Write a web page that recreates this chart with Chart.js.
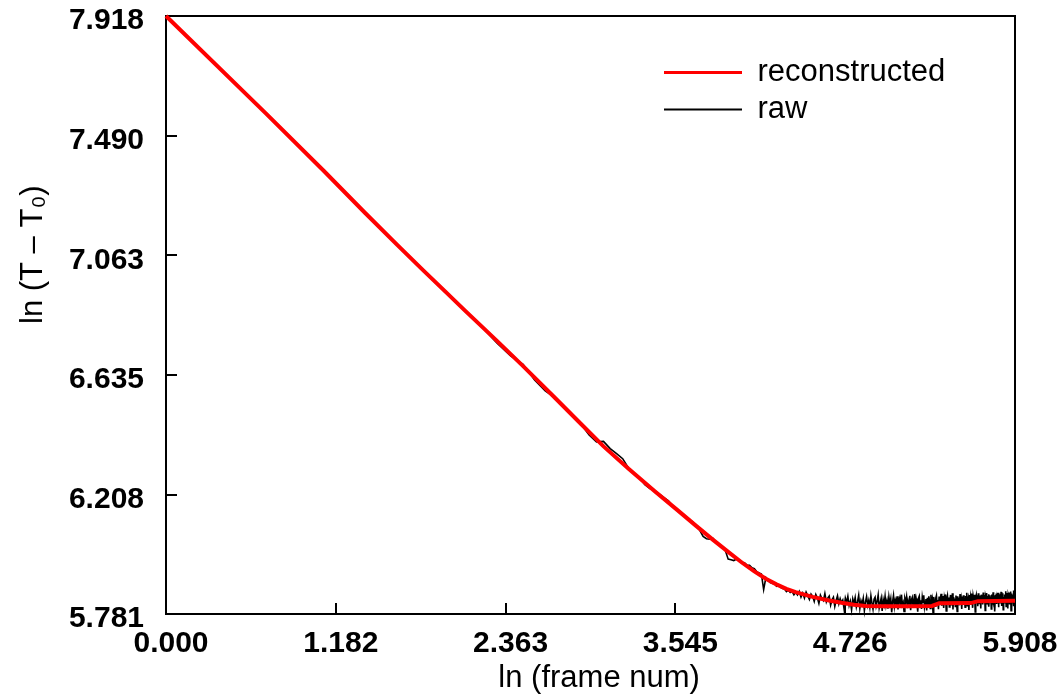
<!DOCTYPE html>
<html><head><meta charset="utf-8">
<script src="https://cdn.jsdelivr.net/npm/chart.js@4/dist/chart.umd.min.js"></script>
<style>html,body{margin:0;padding:0;background:#fff;}</style>
</head><body>
<canvas id="c" width="1059" height="697"></canvas>
<script>
// Axis tick values (labels shown with 3 decimals)
const xTickValues = [0, 1.1816, 2.3632, 3.5448, 4.7264, 5.908];
const yTickValues = [5.781, 6.208, 6.635, 7.063, 7.490, 7.918];
const xRange = [0, 5.908];
const yRange = [5.781, 7.918];

// Series: reconstructed (smooth)
const reconX = [0, 0.693, 1.099, 1.386, 1.609, 1.792, 1.946, 2.079, 2.303, 2.485, 2.708, 2.890, 3.045, 3.219, 3.401, 3.555, 3.689, 3.807, 3.912, 4.007, 4.094, 4.174, 4.248, 4.317, 4.382, 4.443, 4.500, 4.605, 4.700, 4.787, 4.868, 5.000, 5.200, 5.330, 5.380, 5.600, 5.650, 5.908];
const reconY = [7.918, 7.571, 7.364, 7.214, 7.100, 7.008, 6.932, 6.866, 6.757, 6.667, 6.553, 6.459, 6.380, 6.300, 6.220, 6.154, 6.096, 6.046, 6.003, 5.965, 5.933, 5.907, 5.887, 5.871, 5.859, 5.850, 5.842, 5.830, 5.821, 5.814, 5.810, 5.809, 5.809, 5.810, 5.819, 5.820, 5.827, 5.828];

// Series: raw, one value per frame (frame 1 .. 368), plotted at ln(frame)
const rawY = [
 7.918, 7.571, 7.364, 7.214, 7.100, 7.008, 6.932, 6.866, 6.808,
 6.750, 6.703, 6.673, 6.617, 6.578, 6.553, 6.521, 6.490, 6.458, 6.421,
 6.396, 6.398, 6.372, 6.354, 6.336, 6.302, 6.283, 6.267, 6.243, 6.229,
 6.222, 6.209, 6.197, 6.185, 6.167, 6.153, 6.143, 6.132, 6.117, 6.111,
 6.096, 6.081, 6.058, 6.050, 6.048, 6.051, 6.037, 6.026, 6.020, 6.009,
 5.977, 5.975, 5.972, 5.977, 5.974, 5.966, 5.964, 5.956, 5.955, 5.946,
 5.943, 5.932, 5.928, 5.924, 5.868, 5.911, 5.902, 5.893, 5.890, 5.889,
 5.880, 5.884, 5.876, 5.872, 5.870, 5.861, 5.866, 5.858, 5.862, 5.850,
 5.858,
 5.849, 5.862, 5.841, 5.856, 5.838, 5.859, 5.846, 5.833, 5.852, 5.844,
 5.826, 5.851, 5.839, 5.819, 5.848, 5.836, 5.829, 5.854, 5.824, 5.838,
 5.845, 5.813, 5.832, 5.841, 5.808, 5.829, 5.846, 5.818, 5.836, 5.822,
 5.831, 5.799, 5.838, 5.822, 5.844, 5.811, 5.827, 5.796, 5.835, 5.819,
 5.840, 5.806, 5.825, 5.848, 5.801, 5.829, 5.816, 5.837, 5.793, 5.824,
 5.843, 5.812, 5.830, 5.805, 5.846, 5.820, 5.798, 5.834, 5.841, 5.809,
 5.826, 5.849, 5.803, 5.821, 5.838, 5.792, 5.833, 5.815, 5.845, 5.811,
 5.829, 5.800, 5.842, 5.818, 5.836, 5.787, 5.825, 5.847, 5.808, 5.831,
 5.819, 5.844, 5.797, 5.828, 5.839, 5.806, 5.850, 5.814, 5.823, 5.790,
 5.837, 5.826, 5.843, 5.802, 5.829, 5.817, 5.846, 5.795, 5.832, 5.840,
 5.810, 5.827, 5.852, 5.804, 5.836, 5.821, 5.789, 5.838, 5.845, 5.812,
 5.830, 5.799, 5.841, 5.823, 5.848, 5.807, 5.826, 5.835, 5.794, 5.839,
 5.816, 5.844, 5.828, 5.801, 5.850, 5.820, 5.833, 5.786, 5.842, 5.825,
 5.809, 5.838, 5.847, 5.815, 5.831, 5.798, 5.843, 5.822, 5.836, 5.853,
 5.811, 5.829, 5.845, 5.803, 5.838, 5.824, 5.851, 5.792, 5.834, 5.846,
 5.818, 5.840, 5.806, 5.832, 5.849, 5.814, 5.827, 5.855, 5.797, 5.841,
 5.823, 5.836, 5.808, 5.847, 5.830, 5.790, 5.844, 5.826, 5.839, 5.812,
 5.852, 5.821, 5.834, 5.799, 5.843, 5.829, 5.848, 5.816, 5.837, 5.805,
 5.845, 5.825, 5.857, 5.811, 5.833, 5.840, 5.795, 5.849, 5.828, 5.842,
 5.817, 5.854, 5.831, 5.803, 5.846, 5.835, 5.821, 5.850, 5.788, 5.839,
 5.848, 5.826, 5.843, 5.809, 5.855, 5.832, 5.819, 5.847, 5.838, 5.801,
 5.850, 5.829, 5.844, 5.815, 5.858, 5.836, 5.824, 5.849, 5.794, 5.841,
 5.833, 5.856, 5.818, 5.845, 5.830, 5.852, 5.807, 5.839, 5.848, 5.822,
 5.843, 5.799, 5.851, 5.834, 5.827, 5.859, 5.813, 5.846, 5.837, 5.790,
 5.849, 5.826, 5.854, 5.817, 5.840, 5.831, 5.857, 5.805, 5.844, 5.835,
 5.852, 5.821, 5.838, 5.860, 5.810, 5.846, 5.829, 5.855, 5.796, 5.842,
 5.834, 5.851, 5.819, 5.847, 5.862, 5.808, 5.840, 5.828, 5.856, 5.801,
 5.845, 5.837, 5.858, 5.815, 5.849, 5.832, 5.861, 5.793, 5.843, 5.854,
 5.822, 5.850, 5.838, 5.865, 5.809, 5.847, 5.835, 5.858
];

const seriesNames = ['reconstructed', 'raw'];
const FONT = "'Liberation Sans', Arial, Helvetica, sans-serif";

const reconData = reconX.map((x, i) => ({x: x, y: reconY[i]}));
const rawData = rawY.map((y, i) => ({x: Math.log(i + 1), y: y}));

const framePlugin = {
  id: 'frame',
  beforeDatasetsDraw(chart) {
    const {ctx, chartArea: a} = chart;
    ctx.save();
    ctx.strokeStyle = '#000';
    ctx.lineWidth = 2;
    ctx.strokeRect(a.left, a.top, a.right - a.left, a.bottom - a.top);
    ctx.restore();
  }
};
const legendPlace = {
  id: 'legendPlace',
  afterLayout(chart) {
    const lg = chart.legend;
    if (lg) { lg.left = 658; lg.top = 51; }
  }
};

new Chart(document.getElementById('c'), {
  type: 'line',
  data: {
    datasets: [
      {label: seriesNames[0], data: reconData, borderColor: '#ff0000', borderWidth: 4, pointRadius: 0, tension: 0, clip: 8, order: 0},
      {label: seriesNames[1], data: rawData, borderColor: '#000000', borderWidth: 1.6, pointRadius: 0, tension: 0, clip: 8, order: 1}
    ]
  },
  options: {
    responsive: false,
    animation: false,
    layout: {padding: {left: 0, top: 16, right: 44, bottom: 0}},
    plugins: {
      tooltip: {enabled: false},
      legend: {
        position: 'chartArea',
        fullSize: false,
        align: 'start',
        labels: {
          usePointStyle: true,
          pointStyle: 'line',
          pointStyleWidth: 78,
          color: '#000',
          padding: 6,
          font: {size: 31, family: FONT, lineHeight: 1},
          generateLabels(chart) {
            const items = Chart.defaults.plugins.legend.labels.generateLabels(chart);
            items.forEach((it, i) => { it.lineWidth = i === 0 ? 3 : 2; it.pointStyle = 'line'; });
            return items;
          }
        }
      }
    },
    scales: {
      x: {
        type: 'linear',
        min: xRange[0], max: xRange[1],
        afterBuildTicks: s => { s.ticks = xTickValues.map(v => ({value: v})); },
        afterFit: s => { s.height = 83; s.paddingLeft = 0; s.paddingRight = 0; },
        grid: {drawOnChartArea: false, drawTicks: true, tickLength: -11, color: '#000', lineWidth: 2},
        border: {display: true, color: '#000', width: 2},
        ticks: {
          autoSkip: false, maxRotation: 0, padding: 25.5, labelOffset: 5,
          color: '#000', font: {size: 30, weight: 'bold', family: FONT, lineHeight: 1},
          callback: v => Number(v).toFixed(3)
        },
        title: {display: true, text: '  ln (frame num)', color: '#000', font: {size: 31, family: FONT, lineHeight: 1}, padding: {top: 0, bottom: 3.5}}
      },
      y: {
        type: 'linear',
        min: yRange[0], max: yRange[1],
        afterBuildTicks: s => { s.ticks = yTickValues.map(v => ({value: v})); },
        afterFit: s => { s.width = 166; s.paddingTop = 0; s.paddingBottom = 0; },
        grid: {drawOnChartArea: false, drawTicks: true, tickLength: -11, color: '#000', lineWidth: 2},
        border: {display: true, color: '#000', width: 2},
        ticks: {
          autoSkip: false, padding: 33, labelOffset: 5,
          color: '#000', font: {size: 30, weight: 'bold', family: FONT, lineHeight: 1},
          callback: v => Number(v).toFixed(3)
        },
        title: {display: true, text: '              ln (T \u2013 T\u2080)', color: '#000', font: {size: 31, family: FONT, lineHeight: 1}, padding: {top: 17.5, bottom: 0}}
      }
    }
  },
  plugins: [framePlugin, legendPlace]
});
</script>
</body></html>
